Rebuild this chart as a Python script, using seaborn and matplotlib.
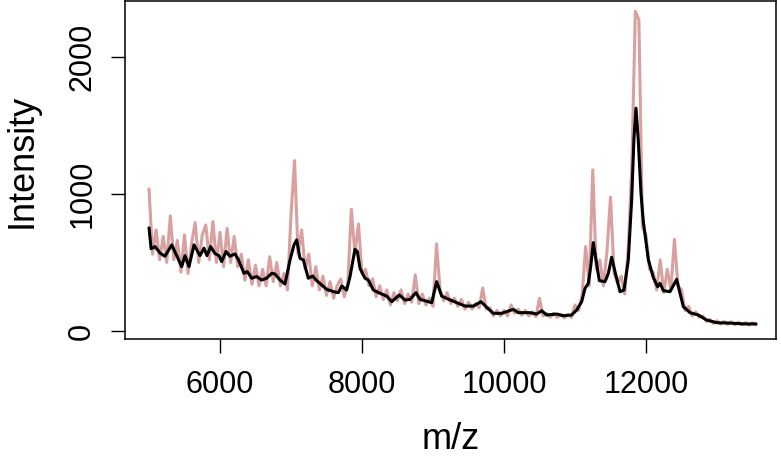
import numpy as np
import pandas as pd
import matplotlib
matplotlib.use("Agg")
import matplotlib.pyplot as plt
import seaborn as sns

# espectro crudo (rosa), muestreado cada 50 m/z
mz_raw = np.arange(5000, 13600, 50)
int_raw = [
    1036, 560, 737, 520, 690, 500, 839, 520, 660, 430,
    700, 420, 640, 791, 500, 700, 774, 520, 798, 500,
    720, 470, 749, 500, 690, 470, 560, 370, 520, 340,
    480, 330, 450, 330, 542, 360, 500, 330, 420, 300,
    847, 1243, 560, 737, 450, 560, 330, 470, 300, 400,
    260, 360, 240, 330, 380, 250, 350, 888, 560, 781,
    420, 450, 330, 380, 250, 330, 230, 300, 190, 280,
    220, 300, 200, 270, 210, 409, 200, 270, 190, 240,
    180, 635, 300, 220, 280, 200, 240, 180, 230, 160,
    210, 160, 200, 170, 314, 160, 170, 110, 150, 110,
    150, 110, 190, 130, 160, 115, 150, 110, 140, 105,
    238, 110, 130, 100, 130, 100, 120, 95, 120, 100,
    190, 150, 260, 616, 330, 1175, 450, 518, 330, 579,
    976, 420, 350, 400, 270, 600, 1200, 2331, 2270, 760,
    700, 450, 430, 300, 518, 280, 450, 300, 669, 330,
    300, 150, 180, 110, 140, 100, 110, 70, 85, 55,
    75, 50, 70, 48, 68, 45, 65, 45, 62, 42,
    60, 45,
]

# espectro suavizado (negro)
mz_smooth = [
    5000, 5030, 5085, 5155, 5225, 5320, 5390, 5460, 5507, 5563,
    5634, 5718, 5775, 5817, 5868, 5930, 5986, 6023, 6085, 6140,
    6211, 6258, 6338, 6385, 6446, 6516, 6587, 6657, 6728, 6775,
    6845, 6915, 6986, 7042, 7080, 7127, 7174, 7244, 7305, 7362,
    7432, 7503, 7597, 7667, 7714, 7784, 7831, 7901, 7934, 7972,
    8042, 8089, 8160, 8254, 8347, 8418, 8526, 8606, 8676, 8761,
    8817, 8887, 8981, 9052, 9122, 9192, 9333, 9451, 9568, 9676,
    9756, 9850, 9967, 10131, 10201, 10366, 10460, 10531, 10601, 10742,
    10836, 10953, 11023, 11094, 11141, 11188, 11221, 11258, 11296, 11343,
    11423, 11470, 11516, 11563, 11634, 11690, 11751, 11798, 11830, 11859,
    11890, 11930, 11962, 12033, 12103, 12164, 12197, 12244, 12338, 12432,
    12479, 12526, 12620, 12737, 12855, 12995, 13183, 13371, 13550,
]
int_smooth = [
    752, 600, 616, 569, 545, 628, 550, 470, 550, 470,
    628, 550, 604, 550, 616, 564, 550, 506, 580, 545,
    562, 521, 421, 433, 385, 397, 372, 385, 421, 416,
    372, 343, 518, 628, 664, 530, 518, 385, 401, 367,
    336, 304, 287, 280, 328, 299, 397, 596, 580, 457,
    385, 372, 299, 275, 255, 214, 263, 226, 231, 280,
    231, 221, 207, 360, 255, 238, 207, 182, 182, 214,
    173, 129, 129, 158, 134, 134, 124, 148, 117, 124,
    112, 117, 153, 214, 311, 348, 470, 645, 518, 367,
    360, 421, 538, 433, 287, 299, 518, 956, 1400, 1625,
    1400, 1000, 800, 520, 390, 323, 348, 295, 287, 377,
    275, 178, 134, 117, 80, 61, 58, 52, 52,
]

df_raw = pd.DataFrame({"mz": mz_raw, "intensity": int_raw})
df_smooth = pd.DataFrame({"mz": mz_smooth, "intensity": int_smooth})

sns.set_style("white")
plt.rcParams["font.family"] = ["Liberation Sans", "DejaVu Sans"]
plt.rcParams["text.color"] = "black"
plt.rcParams["axes.labelcolor"] = "black"
plt.rcParams["xtick.color"] = "black"
plt.rcParams["ytick.color"] = "black"

fig = plt.figure(figsize=(7.81, 4.58), dpi=100)
# caja del grafico: x 125-776 px, y 1-339 px
ax = fig.add_axes([125 / 781, 119 / 458, 651 / 781, 338 / 458])

sns.lineplot(data=df_raw, x="mz", y="intensity", color="#D9A0A0",
             linewidth=2.2, ax=ax)
sns.lineplot(data=df_smooth, x="mz", y="intensity", color="black",
             linewidth=2.2, ax=ax)

ax.set_xlim(4662, 13831)
ax.set_ylim(-58, 2406)
ax.set_xticks([6000, 8000, 10000, 12000])
ax.set_yticks([0, 1000, 2000])
ax.tick_params(axis="both", direction="out", length=10, width=1,
               labelsize=22, bottom=True, left=True)
ax.tick_params(axis="x", pad=12)
ax.tick_params(axis="y", pad=10)
for lab in ax.get_yticklabels():
    lab.set_rotation(90)
    lab.set_va("center")

for s in ax.spines.values():
    s.set_color("black")
    s.set_linewidth(1.1)

ax.set_xlabel("m/z", fontsize=26, labelpad=16)
ax.set_ylabel("Intensity", fontsize=26)
ax.yaxis.set_label_coords(-0.131, 0.527)

fig.savefig("out.png", dpi=100)
